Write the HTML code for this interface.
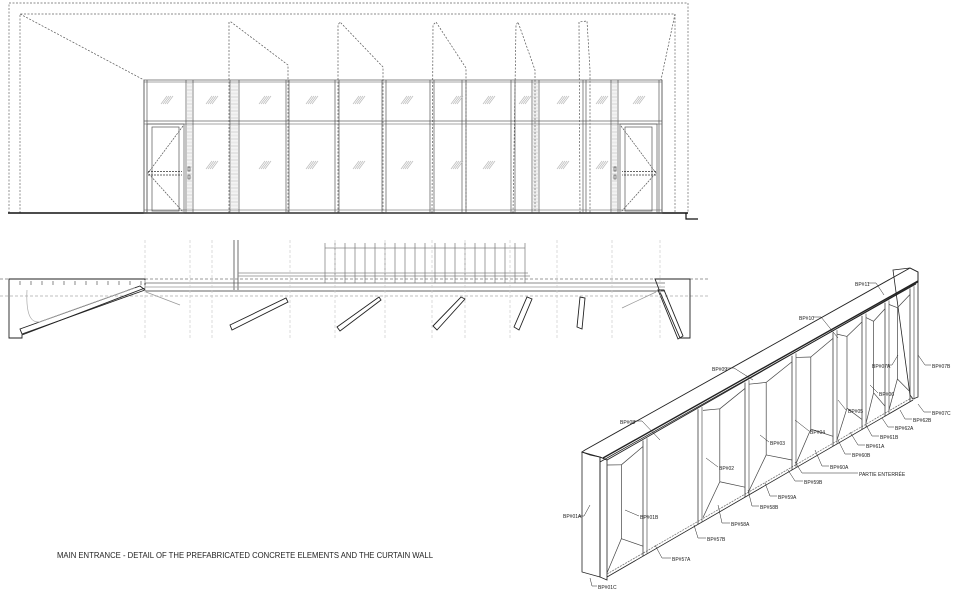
<!DOCTYPE html>
<html><head><meta charset="utf-8"><style>
html,body{margin:0;padding:0;background:#fff;}
svg{display:block;}
text{font-family:"Liberation Sans",sans-serif;fill:#222;}
.l{font-size:5px;}
</style></head><body>
<svg id="s" width="960" height="593" viewBox="0 0 960 593" xmlns="http://www.w3.org/2000/svg">
<g id="g" fill="none" stroke="#333" stroke-width="0.7">
<rect x="9" y="3" width="679" height="210" stroke="#666" stroke-dasharray="2,1.5"/>
<polyline points="20,213 20,14 675,14 675,213" stroke="#666" stroke-dasharray="2,1.5"/>
<polyline points="20,14 144,80" stroke="#555" stroke-dasharray="2,1.5"/>
<polyline points="675,14 661,80" stroke="#555" stroke-dasharray="2,1.5"/>
<polyline points="229,213 229,22 231,22 288,65 288,213" stroke="#555" stroke-dasharray="2,1.5"/>
<polyline points="338,213 338,25 340,22 383,67 383,213" stroke="#555" stroke-dasharray="2,1.5"/>
<polyline points="432,213 433,25 436,22 466,68 466,213" stroke="#555" stroke-dasharray="2,1.5"/>
<polyline points="513,213 516,25 518,22 535,70 535,213" stroke="#555" stroke-dasharray="2,1.5"/>
<polyline points="580,213 579,22 587,21 590,70 590,213" stroke="#555" stroke-dasharray="2,1.5"/>
<line x1="8" y1="213" x2="688" y2="213" stroke="#111" stroke-width="1.6"/>
<polyline points="686,213 686,219 698,219" stroke="#111" stroke-width="1.2"/>
<rect x="144" y="80" width="518" height="133" stroke="#555"/>
<line x1="144" y1="82" x2="662" y2="82" stroke="#888"/>
<line x1="144" y1="121" x2="662" y2="121" stroke="#666"/>
<line x1="144" y1="124" x2="662" y2="124" stroke="#888"/>
<line x1="144" y1="210" x2="662" y2="210" stroke="#888"/>
</g>
<g id="mull" stroke="#555" stroke-width="0.7" fill="none"></g>
<g id="plan" fill="none" stroke="#333" stroke-width="0.7">
<line x1="234" y1="240" x2="234" y2="290"/><line x1="238" y1="240" x2="238" y2="290"/>
<line x1="238" y1="273" x2="528" y2="273" stroke="#888"/>
<line x1="238" y1="276" x2="530" y2="276" stroke="#888"/>
<line x1="325" y1="248" x2="525" y2="248" stroke="#888"/>
<line x1="0" y1="279" x2="710" y2="279" stroke="#777" stroke-dasharray="3,2"/>
<line x1="145" y1="283" x2="665" y2="283" stroke="#666"/>
<line x1="145" y1="287" x2="665" y2="287" stroke="#999"/>
<line x1="145" y1="291" x2="665" y2="291" stroke="#333"/>
<line x1="0" y1="296" x2="710" y2="296" stroke="#aaa" stroke-dasharray="3,2"/>
<polygon points="9,279 145,279 145,288 22,335 22,338 9,338" stroke="#222" stroke-width="0.9"/>
<polygon points="140,286 145,290 22,334 20,329" stroke="#222" stroke-width="0.9"/>
<path d="M27,290 Q25,330 45,320 Q100,300 135,288" stroke="#aaa"/>
<polyline points="146,292 180,305" stroke="#999"/>
<polyline points="656,292 622,308" stroke="#999"/>
<polygon points="655,279 690,279 690,338 680,338 660,292" stroke="#222" stroke-width="0.9"/>
<polygon points="658,290 664,290 683,336 678,339" stroke="#222" stroke-width="0.9"/>
<polygon points="230,325 286,298 288,302 232,330" stroke="#222" stroke-width="0.9"/>
<polygon points="337,327 379,297 381,300 340,331" stroke="#222" stroke-width="0.9"/>
<polygon points="433,326 461,297 465,299 437,330" stroke="#222" stroke-width="0.9"/>
<polygon points="514,327 527,297 532,299 519,330" stroke="#222" stroke-width="0.9"/>
<polygon points="577,327 580,297 585,298 582,329" stroke="#222" stroke-width="0.9"/>
</g>
<g id="axo" fill="none" stroke="#222" stroke-width="0.8">
<polygon points="582,452 585,450 910,268 918,272 918,282 607,460 600,457 590,455" stroke-width="0.9"/>
<line x1="603" y1="458" x2="918" y2="281" stroke-width="1.4"/>
<line x1="600" y1="462" x2="916" y2="284"/>
<polygon points="582,452 600,457 600,577 582,572" />
<polygon points="600,457 607,460 607,580 600,577"/>
<polygon points="893,270 910,268 918,272 918,397 913,399 910,395"/>
<line x1="607" y1="577" x2="913" y2="400"/>
<line x1="607" y1="574" x2="913" y2="397" stroke="#777" stroke-dasharray="2,1"/>
</g>
<g id="axop" fill="none" stroke="#222" stroke-width="0.7"></g>
<text x="57" y="558" font-size="8.3" textLength="376" lengthAdjust="spacingAndGlyphs">MAIN ENTRANCE - DETAIL OF THE PREFABRICATED CONCRETE ELEMENTS AND THE CURTAIN WALL</text>
<g class="l">
<text class="l" x="855" y="286">BP#11</text>
<text class="l" x="799" y="320">BP#10</text>
<text class="l" x="712" y="371">BP#09</text>
<text class="l" x="620" y="424">BP#08</text>
<text class="l" x="872" y="368">BP#07A</text>
<text class="l" x="932" y="368">BP#07B</text>
<text class="l" x="879" y="396">BP#06</text>
<text class="l" x="932" y="415">BP#07C</text>
<text class="l" x="848" y="413">BP#05</text>
<text class="l" x="913" y="422">BP#62B</text>
<text class="l" x="895" y="430">BP#62A</text>
<text class="l" x="880" y="439">BP#61B</text>
<text class="l" x="810" y="434">BP#04</text>
<text class="l" x="866" y="448">BP#61A</text>
<text class="l" x="770" y="445">BP#03</text>
<text class="l" x="852" y="457">BP#60B</text>
<text class="l" x="830" y="469">BP#60A</text>
<text class="l" x="859" y="476">PARTIE ENTERRÉE</text>
<text class="l" x="719" y="470">BP#02</text>
<text class="l" x="804" y="484">BP#59B</text>
<text class="l" x="778" y="499">BP#59A</text>
<text class="l" x="760" y="509">BP#58B</text>
<text class="l" x="731" y="526">BP#58A</text>
<text class="l" x="640" y="519">BP#01B</text>
<text class="l" x="563" y="518">BP#01A</text>
<text class="l" x="707" y="541">BP#57B</text>
<text class="l" x="672" y="561">BP#57A</text>
<text class="l" x="598" y="589">BP#01C</text>
</g>
<g id="lead" fill="none" stroke="#222" stroke-width="0.5">
<polyline points="868,283 876,283 884,295"/>
<polyline points="813,317 821,317 838,338"/>
<polyline points="726,368 734,368 753,380"/>
<polyline points="634,421 642,421 660,440"/>
<polyline points="887,365 892,365 898,355"/>
<polyline points="931,365 925,365 918,355"/>
<polyline points="878,393 870,385"/>
<polyline points="931,412 924,412 918,404"/>
<polyline points="846,410 838,400"/>
<polyline points="912,419 905,419 900,410"/>
<polyline points="894,427 888,427 882,418"/>
<polyline points="879,436 872,436 866,425"/>
<polyline points="809,431 795,420"/>
<polyline points="865,445 858,445 850,432"/>
<polyline points="769,442 760,435"/>
<polyline points="851,454 845,454 838,440"/>
<polyline points="829,466 822,466 815,450"/>
<polyline points="858,473 802,473 795,462"/>
<polyline points="718,467 706,458"/>
<polyline points="803,481 795,481 788,470"/>
<polyline points="777,496 770,496 765,483"/>
<polyline points="759,506 752,506 748,490"/>
<polyline points="730,523 722,523 718,505"/>
<polyline points="639,516 625,510"/>
<polyline points="578,516 584,516 590,505"/>
<polyline points="706,538 698,538 694,525"/>
<polyline points="671,558 662,558 655,545"/>
<polyline points="597,586 592,586 590,578"/>
</g>
</svg>
<script>
(function(){
var NS="http://www.w3.org/2000/svg";
function L(g,x1,y1,x2,y2,st){var e=document.createElementNS(NS,"line");e.setAttribute("x1",x1);e.setAttribute("y1",y1);e.setAttribute("x2",x2);e.setAttribute("y2",y2);if(st)e.setAttribute("stroke",st);g.appendChild(e);return e;}
var m=document.getElementById("mull");
[[144,147],[186,193],[230,239],[286,289],[335,339],[382,386],[430,434],[462,466],[511,515],[532,539],[583,586],[611,618],[659,662]].forEach(function(p){L(m,p[0],80,p[0],213);L(m,p[1],80,p[1],213);if(p[1]-p[0]>4){var e=L(m,(p[0]+p[1])/2,82,(p[0]+p[1])/2,212,"#aaa");e.setAttribute("stroke-width",p[1]-p[0]-2);e.setAttribute("stroke-dasharray","0.6,0.8");e.setAttribute("stroke-opacity","0.5");}});
[[147,184],[620,657]].forEach(function(d){
var r=document.createElementNS(NS,"rect");r.setAttribute("x",d[0]);r.setAttribute("y",124);r.setAttribute("width",d[1]-d[0]);r.setAttribute("height",89);m.appendChild(r);
r=document.createElementNS(NS,"rect");r.setAttribute("x",d[0]+5);r.setAttribute("y",127);r.setAttribute("width",d[1]-d[0]-10);r.setAttribute("height",84);m.appendChild(r);
var left=d[0]<300;var hx=left?d[0]+1:d[1]-1, ox=left?d[1]-1:d[0]+1;
var p=document.createElementNS(NS,"polyline");p.setAttribute("points",ox+",126 "+hx+",173 "+ox+",212");p.setAttribute("stroke-dasharray","2,1");m.appendChild(p);
var k=left?1:-1;
[171.5,175].forEach(function(y){var e=L(m,hx,y,hx+k*34,y,"#333");e.setAttribute("stroke-dasharray","2,1");});
var hx2=left?d[1]+5:d[0]-5;
var h=document.createElementNS(NS,"rect");h.setAttribute("x",hx2-1);h.setAttribute("y",167);h.setAttribute("width",2);h.setAttribute("height",4);m.appendChild(h);
h=document.createElementNS(NS,"rect");h.setAttribute("x",hx2-1);h.setAttribute("y",175);h.setAttribute("width",2);h.setAttribute("height",4);m.appendChild(h);
});
[[165,100],[210,100],[263,100],[310,100],[357,100],[405,100],[455,100],[487,100],[523,100],[561,100],[600,100],[637,100],
[210,165],[263,165],[310,165],[357,165],[405,165],[455,165],[487,165],[561,165],[600,165]].forEach(function(q){var x=q[0],y=q[1];for(var k=0;k<4;k++){L(m,x-4+k*2,y+4,x+2+k*2,y-4,"#bbb");}});
var pl=document.getElementById("plan");
for(var x=325;x<=525;x+=10){L(pl,x,243,x,283,"#777");}
[145,190,212,290,335,385,432,465,510,557,612,660].forEach(function(x){var e=L(pl,x,240,x,340,"#ccc");e.setAttribute("stroke-dasharray","3,2");});
for(var x=20;x<145;x+=11){L(pl,x,281,x,285,"#555");}
var a=document.getElementById("axop");
function topY(x){return 461-(x-607)*(177/311);}
function botY(x){return 577-(x-607)*(177/306);}
[643,698,745,792,833,862,885,910].forEach(function(x){L(a,x,topY(x),x,botY(x));L(a,x+4,topY(x+4),x+4,botY(x+4),"#555");});
[[607,643],[703,745],[749,792],[796,833],[837,862],[866,885],[889,910]].forEach(function(p){var x1=p[0],x2=p[1];var mx=x1+(x2-x1)*0.4;
L(a,x1,topY(x1)+4,mx,topY(mx)+12,"#444");L(a,mx,topY(mx)+12,x2,topY(x2)+6,"#444");
L(a,x1,botY(x1)-4,mx,botY(mx)-30,"#444");L(a,mx,botY(mx)-30,x2,botY(x2)-10,"#444");
L(a,mx,topY(mx)+12,mx,botY(mx)-30,"#444");});
})();
</script>
</body></html>
